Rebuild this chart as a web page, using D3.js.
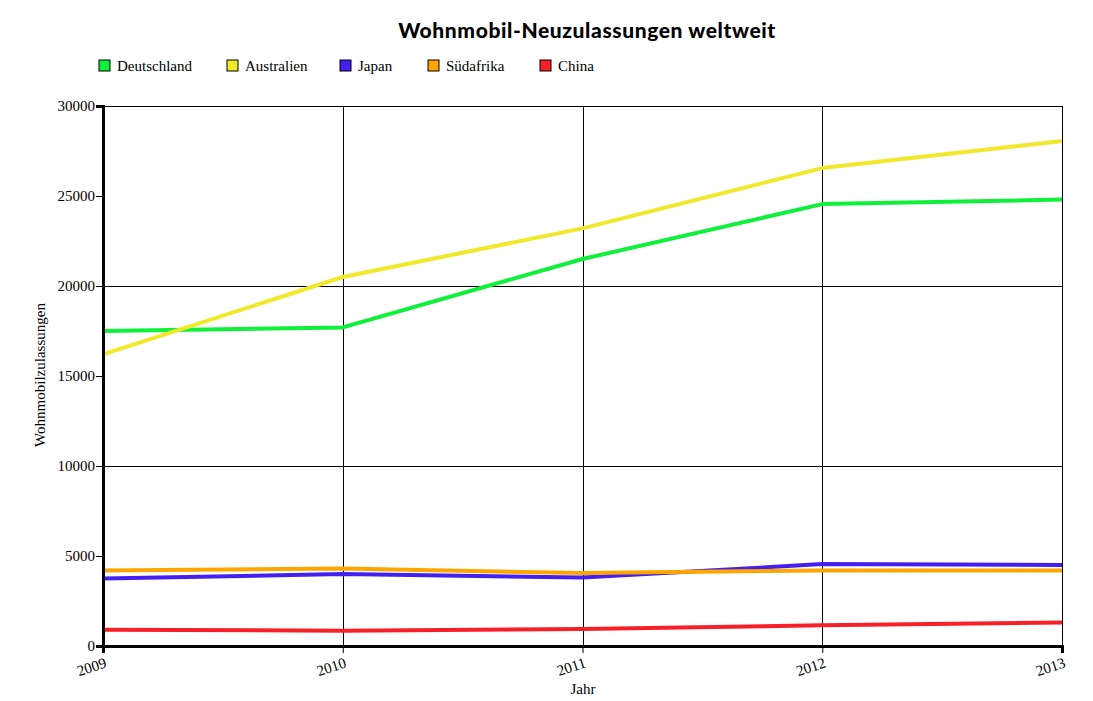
<!DOCTYPE html>
<html>
<head>
<meta charset="utf-8">
<script src="https://cdn.jsdelivr.net/npm/d3@7"></script>
<style>
	body { margin: 0; background: #fff; }
	svg { display: block; }
	.axis path, .axis line { stroke: #000; }
	.axis text { font-family: "Liberation Serif", serif; font-size: 15px; fill: #000; }
	.grid line { stroke: #000; stroke-width: 1; shape-rendering: crispEdges; }
	.grid path { display: none; }
</style>
</head>
<body>
<svg id="main-svg" width="1093" height="701"></svg>
<script>
// Daten
const years = [2009, 2010, 2011, 2012, 2013];
const countries = ['Deutschland', 'Australien', 'Japan', 'Südafrika', 'China'];
const colors = ['#0ef03a', '#f2e82a', '#4420f0', '#ffa500', '#f82028'];
const deutschland = [17500, 17700, 21500, 24550, 24800];
const australien = [16200, 20500, 23200, 26550, 28050];
const japan = [3750, 4000, 3800, 4550, 4500];
const suedafrika = [4200, 4300, 4050, 4200, 4200];
const china = [900, 850, 950, 1150, 1300];
const yTicks = [0, 5000, 10000, 15000, 20000, 25000, 30000];
const yGrid = [10000, 20000, 30000];

const seriesValues = [deutschland, australien, japan, suedafrika, china];

var svg = d3.select('#main-svg');

const plotLeft = 103, plotRight = 1062, plotTop = 106, plotBottom = 646;

let x = d3.scaleLinear().domain([2009, 2013]).range([plotLeft, plotRight]);
let y = d3.scaleLinear().domain([0, 30000]).range([plotBottom, plotTop]);

// Gitter
svg.append('g')
	.attr('class', 'grid')
	.attr('transform', `translate(0,${plotBottom})`)
	.call(d3.axisBottom(x).tickValues(years).tickSize(-(plotBottom - plotTop)).tickFormat(''));

svg.append('g')
	.attr('class', 'grid')
	.attr('transform', `translate(${plotLeft},0)`)
	.call(d3.axisLeft(y).tickValues(yGrid).tickSize(-(plotRight - plotLeft)).tickFormat(''));

// Linien
let line = d3.line()
	.x((d, i) => x(years[i]))
	.y(d => y(d));

svg.append('g')
	.selectAll('path')
	.data(seriesValues)
	.enter().append('path')
	.attr('d', d => line(d))
	.attr('fill', 'none')
	.attr('stroke', (d, i) => colors[i])
	.attr('stroke-width', 4)
	.attr('stroke-linejoin', 'round');

// Achsen
let yAxis = svg.append('g')
	.attr('class', 'axis')
	.attr('transform', `translate(${plotLeft},0)`)
	.call(d3.axisLeft(y).tickValues(yTicks).tickSize(7).tickPadding(1).tickFormat(d3.format('d')));
yAxis.select('.domain').attr('stroke-width', 3);

let xAxis = svg.append('g')
	.attr('class', 'axis')
	.attr('transform', `translate(0,${plotBottom})`)
	.call(d3.axisBottom(x).tickValues(years).tickSize(7).tickFormat(d3.format('d')));
xAxis.select('.domain').attr('stroke-width', 3);
xAxis.selectAll('text')
	.attr('fill', '#333')
	.attr('text-anchor', 'end')
	.attr('dy', null)
	.attr('y', 0)
	.attr('transform', 'translate(4,21) rotate(-18)');

// Titel und Achsentitel
svg.append('text')
	.attr('x', 587)
	.attr('y', 38)
	.attr('text-anchor', 'middle')
	.attr('font-family', 'Lato, "DejaVu Sans", sans-serif')
	.attr('font-weight', 900)
	.attr('font-size', 21)
	.attr('letter-spacing', 0.6)
	.text('Wohnmobil-Neuzulassungen weltweit');

svg.append('text')
	.attr('x', 583)
	.attr('y', 694)
	.attr('text-anchor', 'middle')
	.attr('font-family', '"Liberation Serif", serif')
	.attr('font-size', 15)
	.text('Jahr');

svg.append('text')
	.attr('transform', 'translate(45,375) rotate(-90)')
	.attr('text-anchor', 'middle')
	.attr('font-family', '"Liberation Serif", serif')
	.attr('font-size', 15)
	.text('Wohnmobilzulassungen');

// Legende
const legendX = [99, 227, 340, 428, 540];
let legend = svg.append('g')
	.selectAll('g')
	.data(countries)
	.enter().append('g')
	.attr('transform', (d, i) => `translate(${legendX[i]},60)`);

legend.append('rect')
	.attr('width', 11)
	.attr('height', 11)
	.attr('fill', (d, i) => colors[i])
	.attr('stroke', '#000')
	.attr('stroke-width', 1);

legend.append('text')
	.attr('x', 18)
	.attr('y', 11)
	.attr('font-family', '"Liberation Serif", serif')
	.attr('font-size', 15)
	.text(d => d);
</script>
</body>
</html>
